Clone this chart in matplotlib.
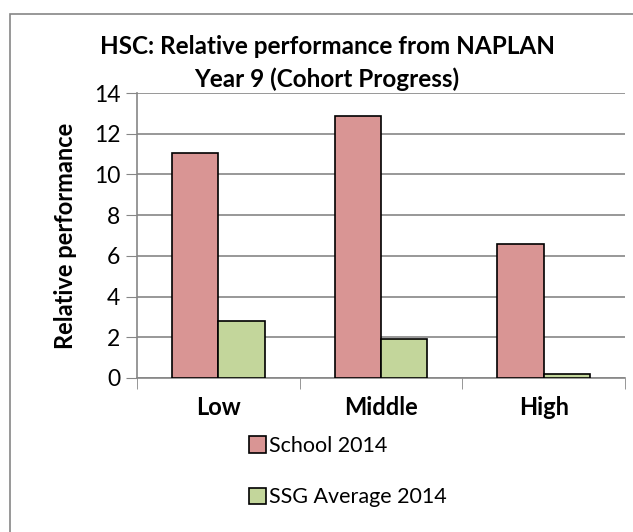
import matplotlib
matplotlib.use("Agg")
import matplotlib.pyplot as plt
import numpy as np
from matplotlib.patches import Rectangle, Patch

categories = ["Low", "Middle", "High"]
school_2014 = [11.05, 12.85, 6.6]
ssg_avg_2014 = [2.8, 1.9, 0.2]
yticks = [0, 2, 4, 6, 8, 10, 12, 14]

plt.rcParams['font.family'] = ['Lato', 'DejaVu Sans']

W, H = 633, 532
fig = plt.figure(figsize=(W/100, H/100), dpi=100)

# outer chart frame (clipped at right/bottom)
fig.patches.append(Rectangle((10/W, -0.1), 1.2, 1 - 14/H + 0.1, transform=fig.transFigure,
                             fill=False, edgecolor='#868686', linewidth=1.2))

ax = fig.add_axes([137/W, 1 - 378/H, (625-137)/W, (378-93)/H])
x = np.arange(len(categories))
bw = 1/3.5
grey = '#868686'
ax.bar(x - bw/2, school_2014, bw, color='#D99594', edgecolor='black', linewidth=1.2,
       label='School 2014', zorder=3)
ax.bar(x + bw/2, ssg_avg_2014, bw, color='#C3D69B', edgecolor='black', linewidth=1.2,
       label='SSG Average 2014', zorder=3)

ax.set_xlim(-0.5, 2.5)
ax.set_ylim(0, 14)
ax.set_yticks(yticks)
ax.set_yticklabels([str(v) for v in yticks], fontsize=16.5)
ax.set_xticks(x)
ax.set_xticklabels(categories, fontsize=17, fontweight='bold')
ax.tick_params(axis='x', length=0, pad=13)
ax.set_xticks([-0.5, 0.5, 1.5, 2.5], minor=True)
ax.tick_params(axis='x', which='minor', length=8, color=grey, direction='out')
ax.tick_params(axis='y', length=8, color=grey, pad=4)
ax.grid(axis='y', color=grey, linewidth=1.2, zorder=0)
for s in ['top', 'right']:
    ax.spines[s].set_visible(False)
for s in ['left', 'bottom']:
    ax.spines[s].set_color(grey)
    ax.spines[s].set_linewidth(1.2)

ax.set_ylabel('Relative performance', fontsize=17, fontweight='bold', labelpad=12)

fig.text(327/W, 1 - 47/H, 'HSC: Relative performance from NAPLAN', ha='center', va='center',
         fontsize=17.5, fontweight='bold')
fig.text(327/W, 1 - 79/H, 'Year 9 (Cohort Progress)', ha='center', va='center',
         fontsize=17.5, fontweight='bold')

handles = [Patch(facecolor='#D99594', edgecolor='black', linewidth=1.2),
           Patch(facecolor='#C3D69B', edgecolor='black', linewidth=1.2)]
fig.legend(handles, ['School 2014', 'SSG Average 2014'], loc='upper left',
           bbox_to_anchor=(249/W, 1 - 436/H), frameon=False, fontsize=15.5,
           handlelength=0.8, handleheight=0.8, handletextpad=0.15, labelspacing=1.45,
           borderaxespad=0, borderpad=0)

fig.savefig('out.png', dpi=100)
